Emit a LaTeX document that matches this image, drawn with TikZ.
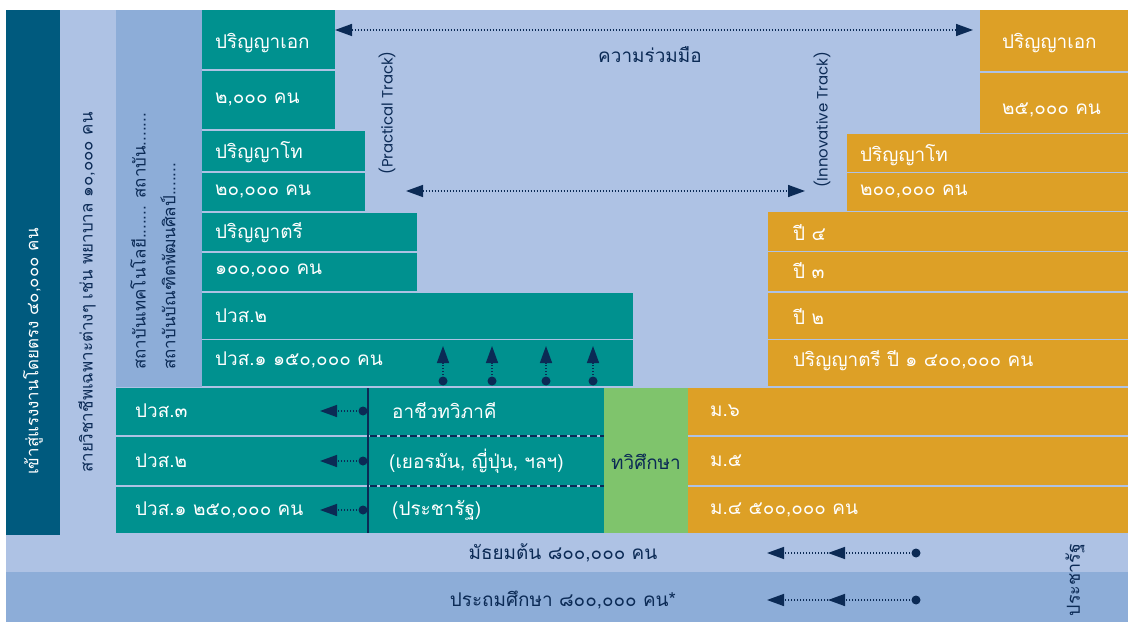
\documentclass[tikz,border=0pt]{standalone}
\usepackage{fontspec}
\newfontfamily\thai[Script=Thai]{Loma}
\newfontfamily\geo{Poppins}
\usetikzlibrary{arrows.meta}
\definecolor{darkc}{HTML}{005A7E}
\definecolor{lightc}{HTML}{AEC2E4}
\definecolor{midc}{HTML}{8DADD8}
\definecolor{tealc}{HTML}{00918F}
\definecolor{orc}{HTML}{DDA026}
\definecolor{grc}{HTML}{7FC46C}
\definecolor{navy}{HTML}{0B2A55}
\begin{document}
\begin{tikzpicture}[x=1bp,y=-1bp,
  wt/.style={font=\thai\fontsize{19}{19}\selectfont, text=white, anchor=west, inner sep=0pt},
  nt/.style={font=\thai\fontsize{19}{19}\selectfont, text=navy, inner sep=0pt},
  rt/.style={font=\thai\fontsize{17}{17}\selectfont, inner sep=0pt, rotate=90, anchor=west},
  lt/.style={font=\geo\fontsize{15}{15}\selectfont, text=navy, inner sep=0pt, rotate=90},
  dotn/.style={circle, fill=navy, inner sep=0pt, minimum size=9bp},
  arr/.style={navy, line width=1.5bp, dash pattern=on 1.5bp off 1.5bp, -{Triangle[length=17bp,width=12bp]}},
  arrb/.style={navy, line width=1.5bp, dash pattern=on 1.5bp off 1.5bp, {Triangle[length=17bp,width=12bp]}-{Triangle[length=17bp,width=12bp]}},
  sep/.style={lightc, line width=1.2bp},
  dsep/.style={navy, line width=2bp, dash pattern=on 7bp off 3bp}
]
\useasboundingbox (0,0) rectangle (1128,622);
\fill[white] (0,0) rectangle (1128,622);
% background bands
\fill[lightc] (6,10) rectangle (1128,572);
\fill[midc] (6,572) rectangle (1128,622);
\fill[darkc] (6,10) rectangle (60,535);
\fill[midc] (116,10) rectangle (202,386.5);
% teal upper stair
\fill[tealc] (202,10) rectangle (335,130);
\fill[tealc] (202,130) rectangle (365,212);
\fill[tealc] (202,212) rectangle (417,292);
\fill[tealc] (202,292) rectangle (633,386);
\draw[sep] (202,70) -- (335,70);
\draw[sep] (202,130) -- (365,130);
\draw[sep] (202,172) -- (365,172);
\draw[sep] (202,212) -- (417,212);
\draw[sep] (202,252) -- (417,252);
\draw[sep] (202,292) -- (633,292);
\draw[sep] (202,339.5) -- (633,339.5);
% lower teal / green / orange
\fill[tealc] (116,388) rectangle (604,533);
\fill[grc] (604,388) rectangle (688,533);
\fill[orc] (688,388) rectangle (1128,533);
\draw[sep] (116,436) -- (604,436);
\draw[sep] (116,486) -- (604,486);
\draw[sep] (688,436) -- (1128,436);
\draw[sep] (688,486) -- (1128,486);
\draw[dsep] (370,436) -- (604,436);
\draw[dsep] (370,486) -- (604,486);
\draw[navy, line width=2bp] (368,388) -- (368,533);
% orange stair
\fill[orc] (980,10) rectangle (1128,133);
\fill[orc] (847,134.5) rectangle (1128,211);
\fill[orc] (768,212) rectangle (1128,291);
\fill[orc] (768,293) rectangle (1128,385.5);
\draw[sep] (980,72) -- (1128,72);
\draw[sep] (847,172.5) -- (1128,172.5);
\draw[sep] (768,251.5) -- (1128,251.5);
\draw[sep] (768,339.5) -- (1128,339.5);

% rotated side texts
\node[rt, text=white] (t0) at (33,475) {เข้าสู่แรงงานโดยตรง ๔๐,๐๐๐ คน};
\node[rt, text=navy] (t1) at (87,473) {สายวิชาชีพเฉพาะต่างๆ เช่น พยาบาล ๑๐,๐๐๐ คน};
\node[rt, text=navy] (t2) at (138,370) {สถาบันเทคโนโลยี....... สถาบัน.......};
\node[rt, text=navy] (t3) at (168,370) {สถาบันบัณฑิตพัฒนศิลป์.......};

% teal texts
\node[wt] (a1) at (215,43) {ปริญญาเอก};
\node[wt] (a2) at (215,100) {๒,๐๐๐ คน};
\node[wt] (a3) at (215,152) {ปริญญาโท};
\node[wt] (a4) at (215,192) {๒๐,๐๐๐ คน};
\node[wt] (a5) at (215,233) {ปริญญาตรี};
\node[wt] (a6) at (215,271) {๑๐๐,๐๐๐ คน};
\node[wt] (a7) at (215,316) {ปวส.๒};
\node[wt] (a8) at (215,360) {ปวส.๑ ๑๕๐,๐๐๐ คน};
\node[wt] (b1) at (135,411) {ปวส.๓};
\node[wt] (b2) at (135,461) {ปวส.๒};
\node[wt] (b3) at (135,510) {ปวส.๑ ๒๕๐,๐๐๐ คน};
\node[wt] (c1) at (392,411) {อาชีวทวิภาคี};
\node[wt] (c2) at (389,461) {(เยอรมัน, ญี่ปุ่น, ฯลฯ)};
\node[wt] (c3) at (392,510) {(ประชารัฐ)};
\node[nt] (g1) at (646,462) {ทวิศึกษา};
% orange texts
\node[wt] (m6) at (710,411) {ม.๖};
\node[wt] (m5) at (710,461) {ม.๕};
\node[wt] (m4) at (710,510) {ม.๔ ๕๐๐,๐๐๐ คน};
\node[wt] (y4) at (793,233) {ปี ๔};
\node[wt] (y3) at (793,271) {ปี ๓};
\node[wt] (y2) at (793,316) {ปี ๒};
\node[wt] (y1) at (793,361) {ปริญญาตรี ปี ๑ ๔๐๐,๐๐๐ คน};
\node[wt] (o3) at (860,155) {ปริญญาโท};
\node[wt] (o4) at (860,192) {๒๐๐,๐๐๐ คน};
\node[wt] (o1) at (1002,43) {ปริญญาเอก};
\node[wt] (o2) at (1002,110) {๒๕,๐๐๐ คน};

% middle texts
\node[nt] (coop) at (650,55) {ความร่วมมือ};
\node[lt] (pt) at (387,113) {(Practical Track)};
\node[lt] (it) at (822,120) {(Innovative Track)};

% horizontal double arrows
\coordinate (h1a) at (335,30); \coordinate (h1b) at (973,30);
\coordinate (h2a) at (406,191); \coordinate (h2b) at (805,191);
\draw[arrb] (h1a) -- (h1b);
\draw[arrb] (h2a) -- (h2b);

% up arrows
\foreach \i/\x in {1/443,2/492,3/546,4/593}{
  \node[dotn] (u\i) at (\x,381) {};
  \coordinate (ut\i) at (\x,346);
  \draw[arr] (u\i.center) -- (ut\i);
}
% left arrows
\foreach \i/\y in {1/411,2/461,3/510}{
  \node[dotn] (l\i) at (363,\y) {};
  \coordinate (lt\i) at (320,\y);
  \draw[arr] (l\i.center) -- (lt\i);
}

% bottom
\node[nt] (ms) at (563,553) {มัธยมต้น ๘๐๐,๐๐๐ คน};
\node[nt] (ps) at (563,600) {ประถมศึกษา ๘๐๐,๐๐๐ คน*};
\node[font=\thai\fontsize{18}{18}\selectfont, text=navy, inner sep=0pt, rotate=90] (pr) at (1075,580) {ประชารัฐ};
\foreach \i/\y in {1/553,2/600}{
  \node[dotn] (bd\i) at (916,\y) {};
  \coordinate (bm\i) at (828,\y);
  \coordinate (be\i) at (767,\y);
  \draw[arr] (bd\i.center) -- (bm\i);
  \draw[arr] (bm\i) -- (be\i);
}
\end{tikzpicture}
\end{document}
